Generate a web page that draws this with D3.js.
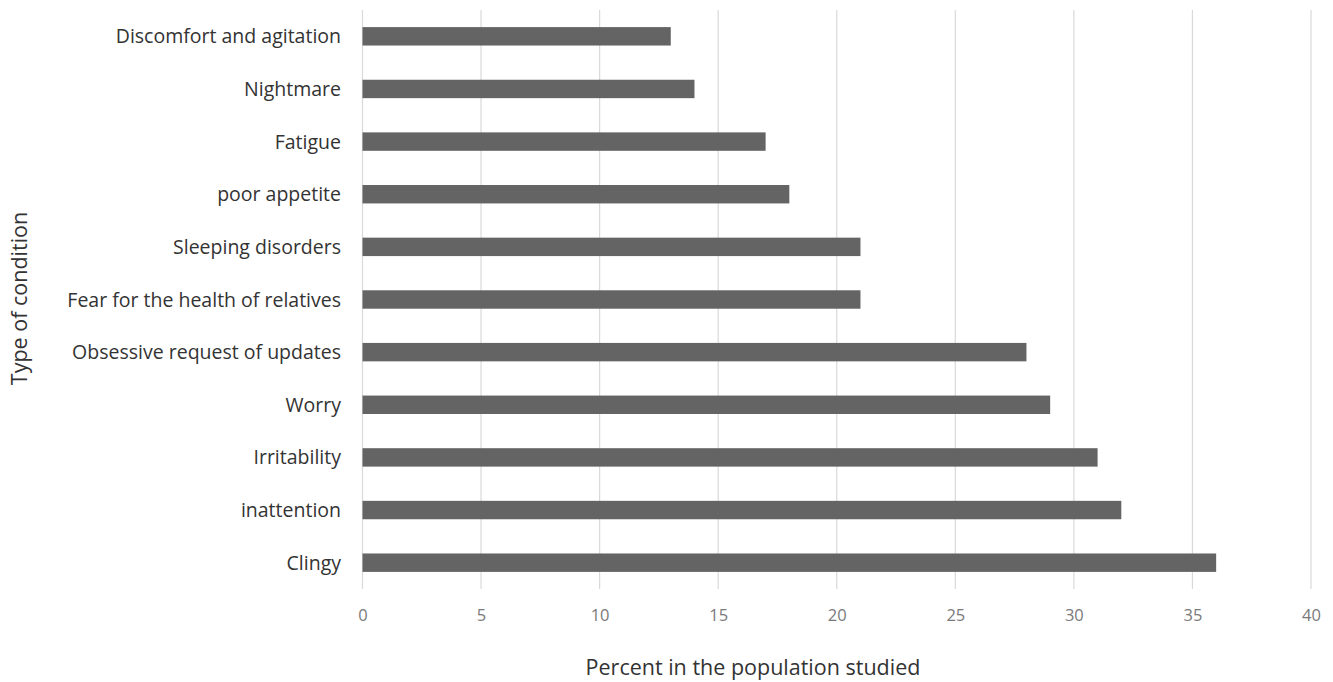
<!DOCTYPE html>
<html>
<head>
<meta charset="utf-8">
<script src="https://cdn.jsdelivr.net/npm/d3@7"></script>
<style>
body { margin: 0; background: #fff; }
</style>
</head>
<body>
<svg id="chart" width="1333" height="682"></svg>
<script>
const categories = ["Discomfort and agitation", "Nightmare", "Fatigue", "poor appetite", "Sleeping disorders", "Fear for the health of relatives", "Obsessive request of updates", "Worry", "Irritability", "inattention", "Clingy"];
const values = [13, 14, 17, 18, 21, 21, 28, 29, 31, 32, 36];
const xTicks = [0, 5, 10, 15, 20, 25, 30, 35, 40];
const xTitle = "Percent in the population studied";
const yTitle = "Type of condition";

const svg = d3.select("#chart");
const pLeft = 362.5, pRight = 1311, pTop = 10, pBottom = 589;
const font = "'Open Sans', sans-serif";

const x = d3.scaleLinear().domain([0, 40]).range([pLeft, pRight]);
const y = d3.scaleBand().domain(categories).range([pTop, pBottom]).paddingInner(0.65).paddingOuter(0.325);

// gridlines
svg.append("g").selectAll("line").data(xTicks).join("line")
  .attr("x1", d => x(d)).attr("x2", d => x(d))
  .attr("y1", pTop).attr("y2", pBottom)
  .attr("stroke", "#d9d9d9").attr("stroke-width", 1.2);

// bars
svg.append("g").selectAll("rect").data(categories).join("rect")
  .attr("x", x(0))
  .attr("y", d => y(d))
  .attr("width", (d, i) => x(values[i]) - x(0))
  .attr("height", y.bandwidth())
  .attr("fill", "#646464");

// x axis ticks
const xAxis = d3.axisBottom(x).tickValues(xTicks).tickSize(0).tickPadding(0);
const gx = svg.append("g").attr("transform", `translate(0, 615)`).call(xAxis);
gx.select(".domain").remove();
gx.selectAll("text").attr("font-family", font).attr("font-size", 16.5).attr("fill", "#7a7a7a").attr("dy", "0.35em");

// y axis labels
const yAxis = d3.axisLeft(y).tickSize(0).tickPadding(0);
const gy = svg.append("g").attr("transform", `translate(341, 0)`).call(yAxis);
gy.select(".domain").remove();
gy.selectAll("text").attr("font-family", font).attr("font-size", 19.5).attr("fill", "#333333").attr("dy", "0.36em");

// axis titles
svg.append("text").attr("x", 753).attr("y", 675)
  .attr("text-anchor", "middle")
  .attr("font-family", font).attr("font-size", 21.5).attr("fill", "#333333").text(xTitle);

svg.append("text").attr("transform", `translate(27, 298.5) rotate(-90)`)
  .attr("text-anchor", "middle")
  .attr("font-family", font).attr("font-size", 21.5).attr("fill", "#333333").text(yTitle);
</script>
</body>
</html>
